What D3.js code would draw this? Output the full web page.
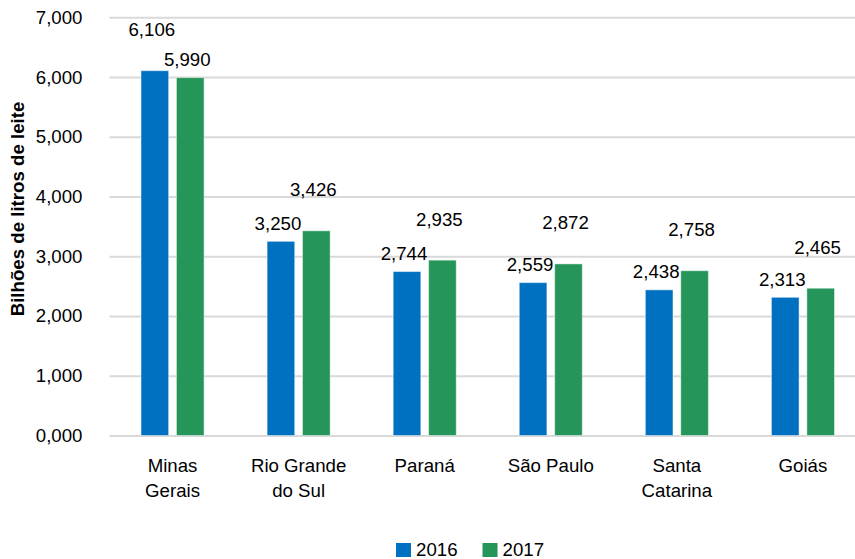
<!DOCTYPE html>
<html>
<head>
<meta charset="utf-8">
<script src="https://cdn.jsdelivr.net/npm/d3@7"></script>
<style>
  body { margin: 0; background: #fff; }
  svg { display: block; font-family: "Liberation Sans", Arial, sans-serif; }
</style>
</head>
<body>
<svg id="chart" width="855" height="559"></svg>
<script>
// data: milk production by state, billions of litres
const categories = ["Minas Gerais", "Rio Grande do Sul", "Paraná", "São Paulo", "Santa Catarina", "Goiás"];
const years = ["2016", "2017"];
const values2016 = [6.106, 3.250, 2.744, 2.559, 2.438, 2.313];
const values2017 = [5.990, 3.426, 2.935, 2.872, 2.758, 2.465];
const yTicks = [0, 1, 2, 3, 4, 5, 6, 7];
const colors = ["#0070c0", "#25955a"];

const rows = categories.map((c, i) => ({ cat: c, vals: [values2016[i], values2017[i]] }));

const svg = d3.select("#chart");
const ptBR = d3.formatLocale({ decimal: ",", thousands: ".", grouping: [3], currency: ["R$", ""] });
const fmt = ptBR.format(".3f");

const x0 = d3.scaleBand()
    .domain(categories)
    .range([109.5, 866])
    .paddingInner(0.5)
    .paddingOuter(0.25);

const x1 = d3.scaleBand()
    .domain(years)
    .range([0, x0.bandwidth()])
    .paddingInner(0.22);

const y = d3.scaleLinear()
    .domain([0, 7])
    .range([435.5, 17.3]);

// gridlines + y tick labels
const yAxis = svg.append("g")
    .attr("transform", "translate(109.5,0)")
    .call(d3.axisLeft(y).tickValues(yTicks).tickFormat(fmt)
        .tickSize(-(866 - 109.5)).tickPadding(27));
yAxis.select(".domain").remove();
yAxis.selectAll(".tick line").attr("stroke", "#d9d9d9").attr("stroke-width", 2);
yAxis.selectAll(".tick text")
    .attr("font-size", "18.67px")
    .attr("font-family", "Liberation Sans, Arial, sans-serif")
    .attr("fill", "#000");

// y axis title
svg.append("text")
    .attr("transform", "translate(17.5,209) rotate(-90)")
    .attr("text-anchor", "middle")
    .attr("dy", "0.35em")
    .attr("font-size", "18.67px")
    .attr("font-weight", "bold")
    .text("Bilhões de litros de leite");

// bars
const groups = svg.append("g").selectAll("g")
    .data(rows)
    .join("g")
    .attr("transform", d => `translate(${x0(d.cat)},0)`);

groups.selectAll("rect")
    .data(d => d.vals.map((v, j) => ({ year: years[j], v: v })))
    .join("rect")
    .attr("x", d => x1(d.year))
    .attr("width", x1.bandwidth())
    .attr("y", d => y(d.v))
    .attr("height", d => y(0) - y(d.v))
    .attr("fill", (d, j) => colors[j])
    .attr("stroke", "#ffffff")
    .attr("stroke-opacity", 0.45)
    .attr("stroke-width", 1);

// value labels: when the two labels of a pair collide, lift the taller bar's label
groups.each(function(d) {
  const labs = d.vals.map((v, j) => ({ year: years[j], v: v, off: 18 }));
  if (Math.abs(y(labs[0].v) - y(labs[1].v)) < 20) {
    const hi = labs[0].v > labs[1].v ? labs[0] : labs[1];
    hi.off = 41;
  }
  d3.select(this).selectAll("text.val")
    .data(labs)
    .join("text")
    .attr("class", "val")
    .attr("x", l => x1(l.year) + x1.bandwidth() / 2 - 3)
    .attr("y", l => y(l.v) - l.off)
    .attr("dy", "0.35em")
    .attr("text-anchor", "middle")
    .attr("font-size", "18.67px")
    .text(l => fmt(l.v));
});

// category labels, wrapped to ~100px
const catText = svg.append("g").selectAll("text")
    .data(categories)
    .join("text")
    .attr("x", d => x0(d) + x0.bandwidth() / 2)
    .attr("y", 465)
    .attr("text-anchor", "middle")
    .attr("font-size", "18.67px");

catText.each(function(d) {
  const t = d3.select(this);
  const words = d.split(" ");
  let line = [];
  let ts = t.append("tspan").attr("x", t.attr("x")).attr("dy", "0.35em");
  words.forEach(w => {
    line.push(w);
    ts.text(line.join(" "));
    if (ts.node().getComputedTextLength() > 100 && line.length > 1) {
      line.pop();
      ts.text(line.join(" "));
      line = [w];
      ts = t.append("tspan").attr("x", t.attr("x")).attr("dy", "25px").text(w);
    }
  });
});

// legend
const legend = svg.append("g").attr("transform", "translate(396,549)");
let lx = 0;
years.forEach((yr, j) => {
  const item = legend.append("g").attr("transform", `translate(${lx},0)`);
  item.append("rect")
      .attr("x", 0).attr("y", -6)
      .attr("width", 15).attr("height", 14)
      .attr("fill", colors[j]);
  const t = item.append("text")
      .attr("x", 20).attr("dy", "0.35em")
      .attr("font-size", "18.67px")
      .text(yr);
  lx += 20 + t.node().getComputedTextLength() + 25;
});
</script>
</body>
</html>
